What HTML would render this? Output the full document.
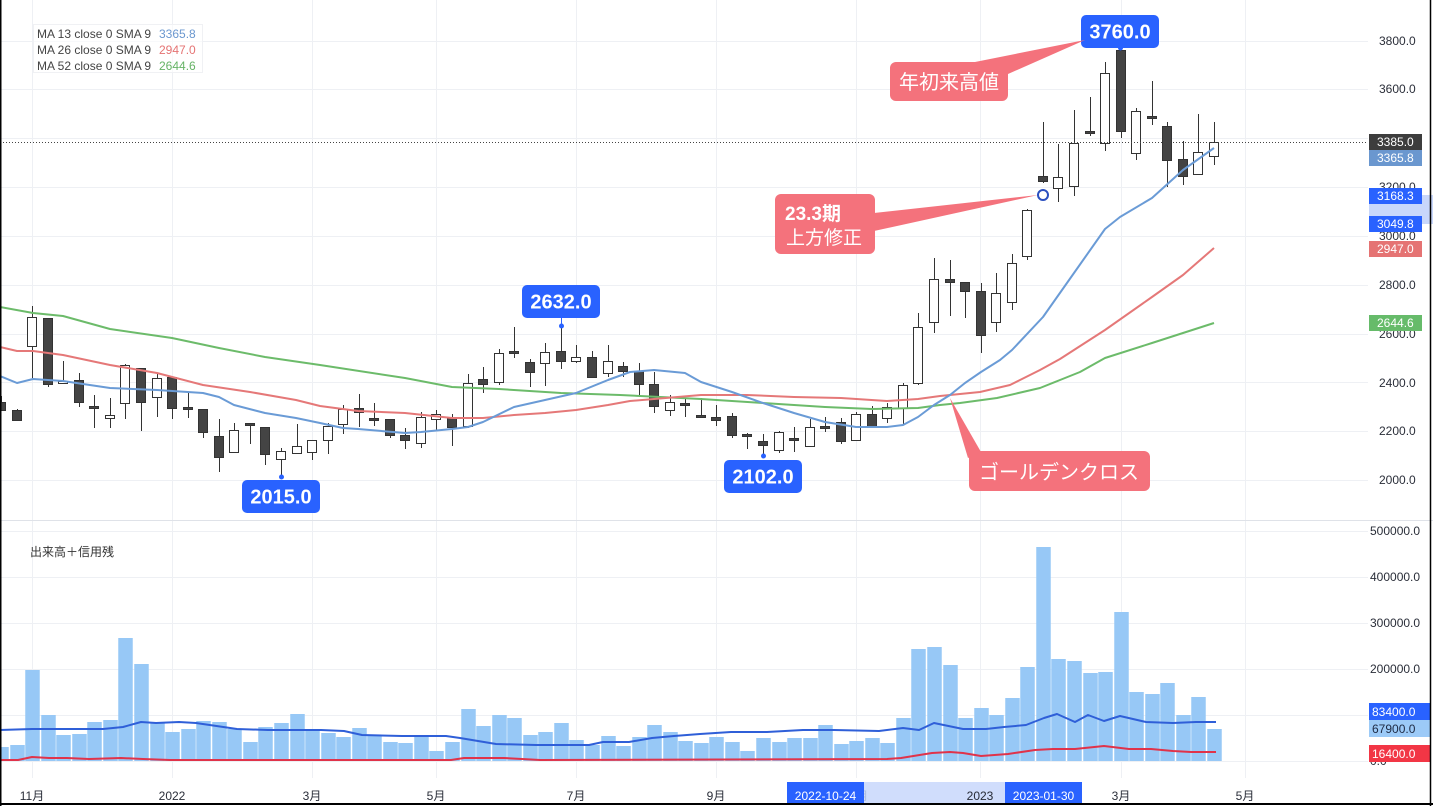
<!DOCTYPE html>
<html><head><meta charset="utf-8"><style>
html,body{margin:0;padding:0;background:#fff;}
svg{display:block;}
text{font-family:"Liberation Sans","Noto Sans CJK JP",sans-serif;}
.ax{font-size:12px;fill:#2a2e39;}
.c line{stroke:#333;stroke-width:1;}
.c rect{stroke:#333;stroke-width:1;}
.w{fill:#fff;}
.d{fill:#444;}
.v rect{fill:#97c8f6;}
</style></head><body>
<svg width="1433" height="806" viewBox="0 0 1433 806" xmlns="http://www.w3.org/2000/svg">
<rect x="0" y="0" width="1433" height="806" fill="#fff"/>
<!-- grid -->
<g stroke="#eef0f4" stroke-width="1">
<line x1="0" x2="1368" y1="41.5" y2="41.5"/>
<line x1="0" x2="1368" y1="89.5" y2="89.5"/>
<line x1="0" x2="1368" y1="138.5" y2="138.5"/>
<line x1="0" x2="1368" y1="187.5" y2="187.5"/>
<line x1="0" x2="1368" y1="236.5" y2="236.5"/>
<line x1="0" x2="1368" y1="285.5" y2="285.5"/>
<line x1="0" x2="1368" y1="334.5" y2="334.5"/>
<line x1="0" x2="1368" y1="382.5" y2="382.5"/>
<line x1="0" x2="1368" y1="431.5" y2="431.5"/>
<line x1="0" x2="1368" y1="480.5" y2="480.5"/>
<line x1="0" x2="1368" y1="531.5" y2="531.5"/>
<line x1="0" x2="1368" y1="577.5" y2="577.5"/>
<line x1="0" x2="1368" y1="623.5" y2="623.5"/>
<line x1="0" x2="1368" y1="669.5" y2="669.5"/>
<line x1="0" x2="1368" y1="715.5" y2="715.5"/>
<line x1="0" x2="1368" y1="761.5" y2="761.5"/>
<line x1="32.5" x2="32.5" y1="0" y2="778"/>
<line x1="172.5" x2="172.5" y1="0" y2="778"/>
<line x1="312.5" x2="312.5" y1="0" y2="778"/>
<line x1="436.5" x2="436.5" y1="0" y2="778"/>
<line x1="576.5" x2="576.5" y1="0" y2="778"/>
<line x1="716.5" x2="716.5" y1="0" y2="778"/>
<line x1="856.5" x2="856.5" y1="0" y2="778"/>
<line x1="980.5" x2="980.5" y1="0" y2="778"/>
<line x1="1121.5" x2="1121.5" y1="0" y2="778"/>
<line x1="1245.5" x2="1245.5" y1="0" y2="778"/>
</g>
<line x1="0" x2="1433" y1="520.5" y2="520.5" stroke="#dfe2e8" stroke-width="1"/>

<!-- volume bars -->
<g class="v">
<rect x="-5.75" y="747" width="14.5" height="14"/>
<rect x="10.25" y="745" width="14.5" height="16"/>
<rect x="25.25" y="670" width="14.5" height="91"/>
<rect x="41.25" y="715" width="14.5" height="46"/>
<rect x="56.25" y="735" width="14.5" height="26"/>
<rect x="72.25" y="734" width="14.5" height="27"/>
<rect x="87.25" y="722" width="14.5" height="39"/>
<rect x="103.25" y="720" width="14.5" height="41"/>
<rect x="118.25" y="638" width="14.5" height="123"/>
<rect x="134.25" y="664" width="14.5" height="97"/>
<rect x="150.25" y="723" width="14.5" height="38"/>
<rect x="165.25" y="732" width="14.5" height="29"/>
<rect x="181.25" y="729" width="14.5" height="32"/>
<rect x="196.25" y="721" width="14.5" height="40"/>
<rect x="212.25" y="722" width="14.5" height="39"/>
<rect x="227.25" y="729" width="14.5" height="32"/>
<rect x="243.25" y="742" width="14.5" height="19"/>
<rect x="258.25" y="727" width="14.5" height="34"/>
<rect x="274.25" y="723" width="14.5" height="38"/>
<rect x="290.25" y="714" width="14.5" height="47"/>
<rect x="305.25" y="730" width="14.5" height="31"/>
<rect x="321.25" y="733" width="14.5" height="28"/>
<rect x="336.25" y="737" width="14.5" height="24"/>
<rect x="352.25" y="728" width="14.5" height="33"/>
<rect x="367.25" y="736" width="14.5" height="25"/>
<rect x="383.25" y="742" width="14.5" height="19"/>
<rect x="398.25" y="743" width="14.5" height="18"/>
<rect x="414.25" y="736" width="14.5" height="25"/>
<rect x="429.25" y="751" width="14.5" height="10"/>
<rect x="445.25" y="742" width="14.5" height="19"/>
<rect x="461.25" y="709" width="14.5" height="52"/>
<rect x="476.25" y="726" width="14.5" height="35"/>
<rect x="492.25" y="715" width="14.5" height="46"/>
<rect x="507.25" y="718" width="14.5" height="43"/>
<rect x="523.25" y="735" width="14.5" height="26"/>
<rect x="538.25" y="732" width="14.5" height="29"/>
<rect x="554.25" y="723" width="14.5" height="38"/>
<rect x="569.25" y="740" width="14.5" height="21"/>
<rect x="585.25" y="745" width="14.5" height="16"/>
<rect x="601.25" y="736" width="14.5" height="25"/>
<rect x="616.25" y="746" width="14.5" height="15"/>
<rect x="632.25" y="737" width="14.5" height="24"/>
<rect x="647.25" y="725" width="14.5" height="36"/>
<rect x="663.25" y="732" width="14.5" height="29"/>
<rect x="678.25" y="741" width="14.5" height="20"/>
<rect x="694.25" y="743" width="14.5" height="18"/>
<rect x="709.25" y="737" width="14.5" height="24"/>
<rect x="725.25" y="742" width="14.5" height="19"/>
<rect x="740.25" y="751" width="14.5" height="10"/>
<rect x="756.25" y="738" width="14.5" height="23"/>
<rect x="772.25" y="742" width="14.5" height="19"/>
<rect x="787.25" y="738" width="14.5" height="23"/>
<rect x="803.25" y="738" width="14.5" height="23"/>
<rect x="818.25" y="725" width="14.5" height="36"/>
<rect x="834.25" y="744" width="14.5" height="17"/>
<rect x="849.25" y="741" width="14.5" height="20"/>
<rect x="865.25" y="738" width="14.5" height="23"/>
<rect x="880.25" y="743" width="14.5" height="18"/>
<rect x="896.25" y="718" width="14.5" height="43"/>
<rect x="911.25" y="649" width="14.5" height="112"/>
<rect x="927.25" y="647" width="14.5" height="114"/>
<rect x="943.25" y="665" width="14.5" height="96"/>
<rect x="958.25" y="718" width="14.5" height="43"/>
<rect x="974.25" y="708" width="14.5" height="53"/>
<rect x="989.25" y="715" width="14.5" height="46"/>
<rect x="1005.25" y="698" width="14.5" height="63"/>
<rect x="1020.25" y="667" width="14.5" height="94"/>
<rect x="1036.25" y="547" width="14.5" height="214"/>
<rect x="1051.25" y="659" width="14.5" height="102"/>
<rect x="1067.25" y="661" width="14.5" height="100"/>
<rect x="1083.25" y="673" width="14.5" height="88"/>
<rect x="1098.25" y="672" width="14.5" height="89"/>
<rect x="1114.25" y="612" width="14.5" height="149"/>
<rect x="1129.25" y="692" width="14.5" height="69"/>
<rect x="1145.25" y="694" width="14.5" height="67"/>
<rect x="1160.25" y="683" width="14.5" height="78"/>
<rect x="1176.25" y="715" width="14.5" height="46"/>
<rect x="1191.25" y="697" width="14.5" height="64"/>
<rect x="1207.25" y="729" width="14.5" height="32"/>
</g>
<!-- volume lines -->
<polyline fill="none" stroke="#2f5fd8" stroke-width="2" stroke-linejoin="round" points="0,730 32,729 67,729 103,729 123,727 141,722 156,723 179,722 196,723 237,729 268,730 321,730 344,731 362,735 402,736 446,736 460,738 496,744 536,745 589,745 603,742 629,742 652,738 674,736 700,734 731,732 767,732 803,730 834,730 879,731 903,728 919,730 934,723 963,729 986,729 1004,727 1026,725 1044,718 1057,714 1075,722 1088,715 1104,721 1120,716 1146,722 1173,723 1196,722 1216,722"/>
<polyline fill="none" stroke="#e0334a" stroke-width="2" stroke-linejoin="round" points="0,760 18,760 32,757 49,758 67,758 89,759 121,758 143,759 170,760 451,760 464,758 504,758 522,759 540,760 887,759 901,758 932,753 950,752 963,753 981,756 1008,754 1035,750 1053,749 1075,749 1104,746 1129,749 1151,749 1173,751 1191,752 1216,752"/>

<!-- candles -->
<g class="c" shape-rendering="crispEdges">
<line x1="1.5" x2="1.5" y1="396" y2="411"/><rect class="d" x="-3.5" y="402.5" width="9" height="8"/>
<line x1="17.5" x2="17.5" y1="409" y2="421"/><rect class="d" x="12.5" y="410.5" width="9" height="10"/>
<line x1="32.5" x2="32.5" y1="306" y2="378"/><rect class="w" x="27.5" y="317.5" width="9" height="29"/>
<line x1="48.5" x2="48.5" y1="318" y2="387"/><rect class="d" x="43.5" y="318.5" width="9" height="66"/>
<line x1="63.5" x2="63.5" y1="361" y2="384"/><rect class="w" x="58.5" y="381.5" width="9" height="2"/>
<line x1="79.5" x2="79.5" y1="373" y2="407"/><rect class="d" x="74.5" y="380.5" width="9" height="22"/>
<line x1="94.5" x2="94.5" y1="395" y2="428"/><rect class="d" x="89.5" y="406.5" width="9" height="2"/>
<line x1="110.5" x2="110.5" y1="398" y2="428"/><rect class="w" x="105.5" y="415.5" width="9" height="3"/>
<line x1="125.5" x2="125.5" y1="364" y2="419"/><rect class="w" x="120.5" y="365.5" width="9" height="38"/>
<line x1="141.5" x2="141.5" y1="368" y2="431"/><rect class="d" x="136.5" y="368.5" width="9" height="34"/>
<line x1="157.5" x2="157.5" y1="373" y2="417"/><rect class="w" x="152.5" y="378.5" width="9" height="19"/>
<line x1="172.5" x2="172.5" y1="377" y2="419"/><rect class="d" x="167.5" y="377.5" width="9" height="31"/>
<line x1="188.5" x2="188.5" y1="393" y2="418"/><rect class="d" x="183.5" y="407.5" width="9" height="2"/>
<line x1="203.5" x2="203.5" y1="409" y2="438"/><rect class="d" x="198.5" y="409.5" width="9" height="23"/>
<line x1="219.5" x2="219.5" y1="419" y2="472"/><rect class="d" x="214.5" y="436.5" width="9" height="21"/>
<line x1="234.5" x2="234.5" y1="423" y2="453"/><rect class="w" x="229.5" y="430.5" width="9" height="22"/>
<line x1="250.5" x2="250.5" y1="423" y2="444"/><rect class="d" x="245.5" y="423.5" width="9" height="2"/>
<line x1="265.5" x2="265.5" y1="427" y2="465"/><rect class="d" x="260.5" y="427.5" width="9" height="27"/>
<line x1="281.5" x2="281.5" y1="448" y2="477"/><rect class="w" x="276.5" y="451.5" width="9" height="8"/>
<line x1="297.5" x2="297.5" y1="424" y2="454"/><rect class="w" x="292.5" y="446.5" width="9" height="7"/>
<line x1="312.5" x2="312.5" y1="440" y2="460"/><rect class="w" x="307.5" y="440.5" width="9" height="12"/>
<line x1="328.5" x2="328.5" y1="423" y2="454"/><rect class="w" x="323.5" y="426.5" width="9" height="14"/>
<line x1="343.5" x2="343.5" y1="405" y2="434"/><rect class="w" x="338.5" y="409.5" width="9" height="15"/>
<line x1="359.5" x2="359.5" y1="394" y2="427"/><rect class="d" x="354.5" y="408.5" width="9" height="4"/>
<line x1="374.5" x2="374.5" y1="403" y2="426"/><rect class="d" x="369.5" y="418.5" width="9" height="2"/>
<line x1="390.5" x2="390.5" y1="419" y2="438"/><rect class="d" x="385.5" y="419.5" width="9" height="16"/>
<line x1="405.5" x2="405.5" y1="428" y2="449"/><rect class="d" x="400.5" y="435.5" width="9" height="5"/>
<line x1="421.5" x2="421.5" y1="412" y2="448"/><rect class="w" x="416.5" y="417.5" width="9" height="26"/>
<line x1="436.5" x2="436.5" y1="410" y2="430"/><rect class="w" x="431.5" y="414.5" width="9" height="5"/>
<line x1="452.5" x2="452.5" y1="414" y2="446"/><rect class="d" x="447.5" y="417.5" width="9" height="10"/>
<line x1="468.5" x2="468.5" y1="374" y2="428"/><rect class="w" x="463.5" y="383.5" width="9" height="43"/>
<line x1="483.5" x2="483.5" y1="367" y2="393"/><rect class="d" x="478.5" y="379.5" width="9" height="5"/>
<line x1="499.5" x2="499.5" y1="349" y2="385"/><rect class="w" x="494.5" y="353.5" width="9" height="29"/>
<line x1="514.5" x2="514.5" y1="327" y2="358"/><rect class="d" x="509.5" y="351.5" width="9" height="2"/>
<line x1="530.5" x2="530.5" y1="359" y2="387"/><rect class="d" x="525.5" y="362.5" width="9" height="10"/>
<line x1="545.5" x2="545.5" y1="343" y2="386"/><rect class="w" x="540.5" y="352.5" width="9" height="11"/>
<line x1="561.5" x2="561.5" y1="326" y2="369"/><rect class="d" x="556.5" y="351.5" width="9" height="10"/>
<line x1="576.5" x2="576.5" y1="345" y2="363"/><rect class="w" x="571.5" y="357.5" width="9" height="4"/>
<line x1="592.5" x2="592.5" y1="351" y2="378"/><rect class="d" x="587.5" y="357.5" width="9" height="20"/>
<line x1="608.5" x2="608.5" y1="345" y2="377"/><rect class="w" x="603.5" y="361.5" width="9" height="12"/>
<line x1="623.5" x2="623.5" y1="362" y2="377"/><rect class="d" x="618.5" y="366.5" width="9" height="5"/>
<line x1="639.5" x2="639.5" y1="363" y2="395"/><rect class="d" x="634.5" y="371.5" width="9" height="13"/>
<line x1="654.5" x2="654.5" y1="372" y2="413"/><rect class="d" x="649.5" y="384.5" width="9" height="22"/>
<line x1="670.5" x2="670.5" y1="395" y2="416"/><rect class="w" x="665.5" y="402.5" width="9" height="8"/>
<line x1="685.5" x2="685.5" y1="399" y2="417"/><rect class="d" x="680.5" y="403.5" width="9" height="2"/>
<line x1="701.5" x2="701.5" y1="398" y2="417"/><rect class="d" x="696.5" y="415.5" width="9" height="2"/>
<line x1="716.5" x2="716.5" y1="405" y2="426"/><rect class="d" x="711.5" y="417.5" width="9" height="3"/>
<line x1="732.5" x2="732.5" y1="413" y2="438"/><rect class="d" x="727.5" y="416.5" width="9" height="19"/>
<line x1="747.5" x2="747.5" y1="433" y2="449"/><rect class="d" x="742.5" y="434.5" width="9" height="2"/>
<line x1="763.5" x2="763.5" y1="434" y2="456"/><rect class="d" x="758.5" y="441.5" width="9" height="4"/>
<line x1="779.5" x2="779.5" y1="431" y2="453"/><rect class="w" x="774.5" y="432.5" width="9" height="18"/>
<line x1="794.5" x2="794.5" y1="427" y2="452"/><rect class="d" x="789.5" y="438.5" width="9" height="2"/>
<line x1="810.5" x2="810.5" y1="419" y2="447"/><rect class="w" x="805.5" y="427.5" width="9" height="19"/>
<line x1="825.5" x2="825.5" y1="417" y2="432"/><rect class="d" x="820.5" y="426.5" width="9" height="2"/>
<line x1="841.5" x2="841.5" y1="418" y2="444"/><rect class="d" x="836.5" y="422.5" width="9" height="19"/>
<line x1="856.5" x2="856.5" y1="412" y2="441"/><rect class="w" x="851.5" y="414.5" width="9" height="26"/>
<line x1="872.5" x2="872.5" y1="406" y2="428"/><rect class="d" x="867.5" y="414.5" width="9" height="12"/>
<line x1="887.5" x2="887.5" y1="403" y2="423"/><rect class="w" x="882.5" y="407.5" width="9" height="11"/>
<line x1="903.5" x2="903.5" y1="383" y2="424"/><rect class="w" x="898.5" y="385.5" width="9" height="23"/>
<line x1="918.5" x2="918.5" y1="313" y2="385"/><rect class="w" x="913.5" y="327.5" width="9" height="56"/>
<line x1="934.5" x2="934.5" y1="258" y2="333"/><rect class="w" x="929.5" y="279.5" width="9" height="43"/>
<line x1="950.5" x2="950.5" y1="260" y2="316"/><rect class="d" x="945.5" y="279.5" width="9" height="3"/>
<line x1="965.5" x2="965.5" y1="282" y2="318"/><rect class="d" x="960.5" y="282.5" width="9" height="9"/>
<line x1="981.5" x2="981.5" y1="283" y2="353"/><rect class="d" x="976.5" y="291.5" width="9" height="44"/>
<line x1="996.5" x2="996.5" y1="273" y2="332"/><rect class="w" x="991.5" y="293.5" width="9" height="29"/>
<line x1="1012.5" x2="1012.5" y1="254" y2="310"/><rect class="w" x="1007.5" y="263.5" width="9" height="39"/>
<line x1="1027.5" x2="1027.5" y1="209" y2="260"/><rect class="w" x="1022.5" y="210.5" width="9" height="46"/>
<line x1="1043.5" x2="1043.5" y1="122" y2="183"/><rect class="d" x="1038.5" y="176.5" width="9" height="5"/>
<line x1="1058.5" x2="1058.5" y1="144" y2="202"/><rect class="w" x="1053.5" y="177.5" width="9" height="11"/>
<line x1="1074.5" x2="1074.5" y1="110" y2="196"/><rect class="w" x="1069.5" y="143.5" width="9" height="43"/>
<line x1="1090.5" x2="1090.5" y1="97" y2="136"/><rect class="d" x="1085.5" y="131.5" width="9" height="2"/>
<line x1="1105.5" x2="1105.5" y1="62" y2="151"/><rect class="w" x="1100.5" y="73.5" width="9" height="70"/>
<line x1="1121.5" x2="1121.5" y1="47" y2="138"/><rect class="d" x="1116.5" y="50.5" width="9" height="81"/>
<line x1="1136.5" x2="1136.5" y1="108" y2="160"/><rect class="w" x="1131.5" y="111.5" width="9" height="42"/>
<line x1="1152.5" x2="1152.5" y1="81" y2="125"/><rect class="d" x="1147.5" y="116.5" width="9" height="2"/>
<line x1="1167.5" x2="1167.5" y1="122" y2="187"/><rect class="d" x="1162.5" y="126.5" width="9" height="34"/>
<line x1="1183.5" x2="1183.5" y1="141" y2="185"/><rect class="d" x="1178.5" y="159.5" width="9" height="17"/>
<line x1="1198.5" x2="1198.5" y1="114" y2="175"/><rect class="w" x="1193.5" y="152.5" width="9" height="22"/>
<line x1="1214.5" x2="1214.5" y1="122" y2="165"/><rect class="w" x="1209.5" y="142.5" width="9" height="14"/>
</g>

<!-- moving averages -->
<polyline fill="none" stroke="#6cbb6a" stroke-width="2" stroke-linejoin="round" points="0,307 33,313 63,316 110,329 172,338 219,348 265,357 320,365 405,378 452,387 499,389 561,393 620,395 701,399 763,403 825,407 872,409 918,408 940,405 960,403 997,398 1040,388 1060,380 1080,372 1105,358 1152,343 1214,323"/>
<polyline fill="none" stroke="#e57878" stroke-width="2" stroke-linejoin="round" points="0,347 17,351 33,351 63,355 110,365 157,373 203,385 250,392 296,400 320,406 358,411 405,413 452,418 483,418 514,415 545,413 576,410 608,405 630,401 654,399 701,395 747,395 794,397 841,398 887,401 918,399 940,396 960,394 980,392 1010,385 1020,380 1040,370 1060,359 1105,330 1152,297 1183,275 1214,248"/>
<polyline fill="none" stroke="#6a9bd6" stroke-width="2" stroke-linejoin="round" points="0,376 17,383 33,379 63,381 110,388 157,390 203,393 219,397 234,405 265,413 296,418 320,423 343,428 358,429 405,433 421,432 452,429 468,427 483,422 514,407 545,400 576,393 608,380 630,372 654,370 685,373 701,382 732,392 763,403 794,413 825,422 856,427 887,427 903,425 918,417 934,405 950,395 965,383 981,372 1000,360 1012,350 1043,317 1074,273 1105,229 1120,217 1152,198 1183,170 1214,148"/>

<!-- last price dotted line -->
<line x1="0" x2="1368" y1="142.5" y2="142.5" stroke="#444" stroke-width="1" stroke-dasharray="1,2"/>

<!-- legend -->
<rect x="33.5" y="24.5" width="169" height="48" fill="#fff" fill-opacity="0.6" stroke="#f0f1f4"/>
<text class="ax" x="37" y="38" style="fill:#444">MA 13 close 0 SMA 9</text>
<text class="ax" x="37" y="54" style="fill:#444">MA 26 close 0 SMA 9</text>
<text class="ax" x="37" y="70" style="fill:#444">MA 52 close 0 SMA 9</text>
<text x="159" y="38" font-size="12" fill="#6a97cf">3365.8</text>
<text x="159" y="54" font-size="12" fill="#e57373">2947.0</text>
<text x="159" y="70" font-size="12" fill="#66b366">2644.6</text>
<text x="30" y="556" font-size="12" fill="#333">出来高＋信用残</text>

<!-- blue price labels -->
<g fill="#2962ff">
<circle cx="281.5" cy="477" r="2.5"/>
<rect x="242" y="480" width="78" height="33" rx="5"/>
<line x1="561.5" x2="561.5" y1="318" y2="326" stroke="#2962ff" stroke-width="1"/>
<circle cx="561.5" cy="326" r="2.5"/>
<rect x="522" y="285" width="78" height="33" rx="5"/>
<circle cx="763.5" cy="456" r="2.5"/>
<rect x="724" y="460" width="78" height="33" rx="5"/>
<circle cx="1120.5" cy="48" r="2.5"/>
<rect x="1081" y="15" width="78" height="33" rx="5"/>
</g>
<g fill="#fff" font-size="20" font-weight="bold" text-anchor="middle">
<text x="281" y="503.5">2015.0</text>
<text x="561" y="308.5">2632.0</text>
<text x="763" y="483.5">2102.0</text>
<text x="1120" y="38.5">3760.0</text>
</g>

<!-- callouts -->
<g fill="#f4727c">
<polygon points="975,62 1085,40 1008,74"/>
<rect x="890" y="62" width="118" height="39" rx="6"/>
<polygon points="874,213 1038,195 874,231"/>
<rect x="775" y="194" width="100" height="60" rx="6"/>
<polygon points="950,398 981,452 968,458"/>
<rect x="969" y="451" width="181" height="40" rx="6"/>
</g>
<circle cx="1043" cy="195" r="5" fill="#fff" stroke="#2b4fbf" stroke-width="2"/>
<g fill="#fff" font-size="20">
<text x="949" y="89" text-anchor="middle">年初来高値</text>
<text x="785" y="220" font-size="19" font-weight="bold">23.3期</text>
<text x="786" y="244" font-size="19">上方修正</text>
<text x="1059" y="479" text-anchor="middle">ゴールデンクロス</text>
</g>

<!-- right price axis -->
<rect x="1369" y="195" width="64" height="29" fill="#c8d7fb"/>
<g class="ax">
<text x="1379" y="45">3800.0</text>
<text x="1379" y="93">3600.0</text>
<text x="1379" y="143">3400.0</text>
<text x="1379" y="191">3200.0</text>
<text x="1379" y="240">3000.0</text>
<text x="1379" y="289">2800.0</text>
<text x="1379" y="338">2600.0</text>
<text x="1379" y="387">2400.0</text>
<text x="1379" y="435">2200.0</text>
<text x="1379" y="484">2000.0</text>
<text x="1370" y="535">500000.0</text>
<text x="1370" y="581">400000.0</text>
<text x="1370" y="627">300000.0</text>
<text x="1370" y="673">200000.0</text>
<text x="1370" y="719">100000.0</text>
<text x="1370" y="765">0.0</text>
</g>
<rect x="1369" y="134" width="53" height="16" fill="#3d3d3d"/>
<rect x="1369" y="150" width="53" height="16" fill="#6a97cf"/>
<rect x="1369" y="188" width="53" height="16" fill="#2962ff"/>
<rect x="1369" y="216" width="53" height="16" fill="#2962ff"/>
<rect x="1369" y="241" width="53" height="16" fill="#e57373"/>
<rect x="1369" y="315" width="53" height="16" fill="#66bb6a"/>
<rect x="1369" y="703" width="61" height="17" fill="#2962ff"/>
<rect x="1369" y="720" width="61" height="17" fill="#9ccaf7"/>
<rect x="1369" y="745" width="61" height="17" fill="#f23645"/>
<g font-size="12" fill="#fff">
<text x="1377" y="146">3385.0</text>
<text x="1377" y="162">3365.8</text>
<text x="1377" y="200">3168.3</text>
<text x="1377" y="228">3049.8</text>
<text x="1377" y="253">2947.0</text>
<text x="1377" y="327">2644.6</text>
<text x="1372" y="716">83400.0</text>
<text x="1372" y="758">16400.0</text>
</g>
<text x="1372" y="733" font-size="12" fill="#1e2a44">67900.0</text>

<!-- time axis -->
<g class="ax" text-anchor="middle">
<text x="32" y="800">11月</text>
<text x="172" y="800">2022</text>
<text x="312" y="800">3月</text>
<text x="436" y="800">5月</text>
<text x="576" y="800">7月</text>
<text x="716" y="800">9月</text>
<text x="856" y="800">11月</text>
<text x="980" y="800">2023</text>
<text x="1121" y="800">3月</text>
<text x="1245" y="800">5月</text>
</g>
<rect x="864" y="782" width="141" height="22" fill="#c8d7fb" fill-opacity="0.85"/>
<rect x="787" y="782" width="77" height="22" fill="#2962ff"/>
<rect x="1005" y="782" width="77" height="22" fill="#2962ff"/>
<text x="980" y="800" font-size="12" fill="#2a2e39" text-anchor="middle">2023</text>
<g font-size="12" fill="#fff" text-anchor="middle">
<text x="825.5" y="800">2022-10-24</text>
<text x="1043.5" y="800">2023-01-30</text>
</g>

<!-- borders -->
<line x1="0.75" x2="0.75" y1="0" y2="806" stroke="#000" stroke-width="1.5"/>
<line x1="1430.5" x2="1430.5" y1="0" y2="806" stroke="#000" stroke-width="1.5"/>
<line x1="0" x2="1433" y1="804" y2="804" stroke="#000" stroke-width="2"/>
</svg>
</body></html>
